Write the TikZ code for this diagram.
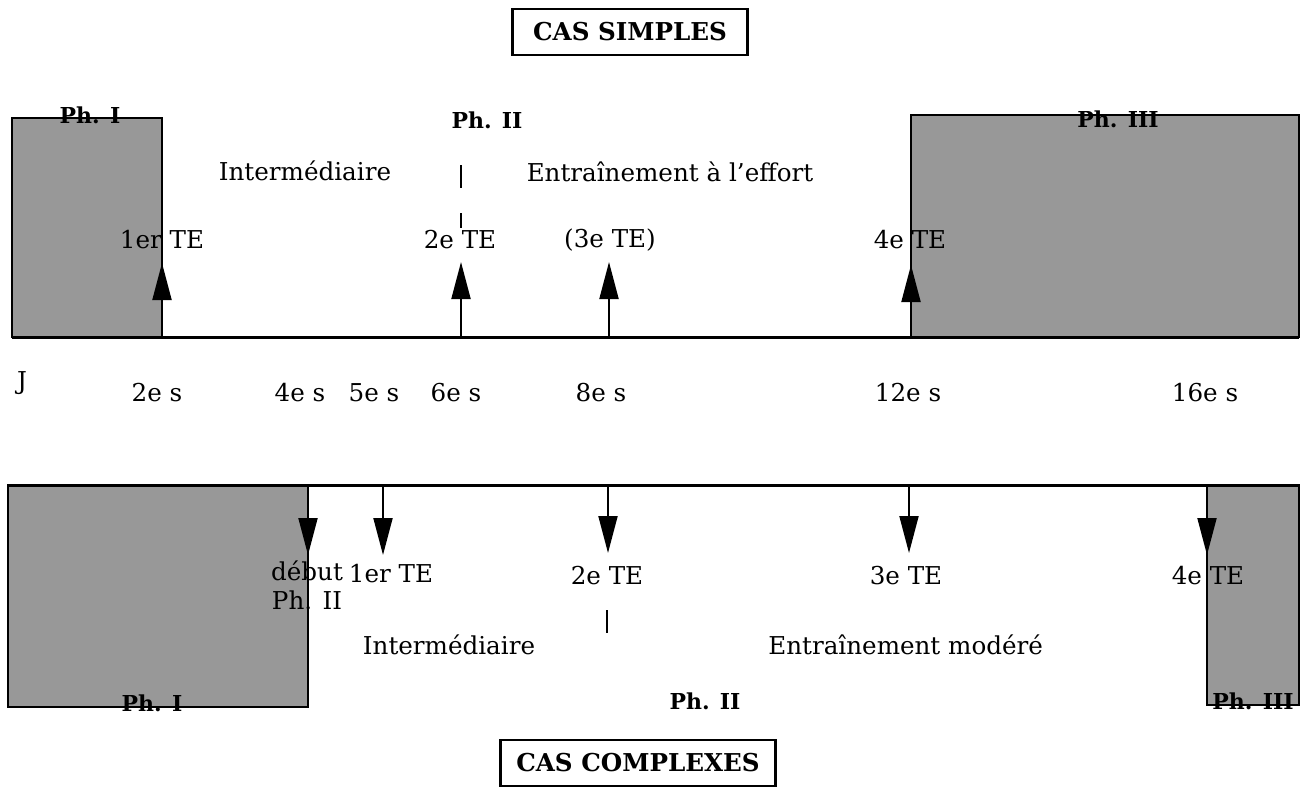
\documentclass[tikz,border=0pt]{standalone}
\usepackage{fontspec}
\setmainfont{DejaVu Serif}
\definecolor{phgray}{RGB}{152, 152, 152}
\usetikzlibrary{arrows.meta, positioning}
\tikzset{
  lbl/.style={inner sep=0pt, font=\fontsize{14}{16.5}\selectfont},
  phlbl/.style={inner sep=0pt, font=\fontsize{12.5}{14}\selectfont\bfseries},
  casbox/.style={draw, line width=1.3pt, inner sep=0pt, minimum height=9.2mm, font=\fontsize{14}{16}\selectfont\bfseries},
  phase/.style={draw, fill=phgray, line width=1.4pt},
  timeaxis/.style={line width=1.7pt},
  tearrow/.style={-{Triangle[length=7.4mm, width=3.8mm]}, line width=1.1pt},
  sepline/.style={line width=1.1pt},
}
\begin{document}
\begin{tikzpicture}[x=0.2mm, y=-0.2mm]
  \useasboundingbox (0,0) rectangle (1302,787);
  % cas simples
  \node[casbox, minimum width=47mm] (cs) at (630,32) {CAS SIMPLES};
  \draw[phase] (12,118) rectangle (162,337);
  \draw[phase] (911,115) rectangle (1299,337);
  \draw[timeaxis] (12,337) -- (1299,337);
  \node[phlbl] (cs1) at (90,115) {Ph. I};
  \node[phlbl] (cs2) at (487,120) {Ph. II};
  \node[phlbl] (cs3) at (1118,119) {Ph. III};
  \node[lbl] (csi) at (305,171) {Intermédiaire};
  \node[lbl] (cse) at (670,172) {Entraînement à l'effort};
  \coordinate (a1) at (162,337); \coordinate (h1) at (162,263);
  \coordinate (a2) at (461,337); \coordinate (h2) at (461,262);
  \coordinate (a3) at (609,337); \coordinate (h3) at (609,262);
  \coordinate (a4) at (911,337); \coordinate (h4) at (911,265);
  \draw[tearrow] (a1) -- (h1); \draw[tearrow] (a2) -- (h2);
  \draw[tearrow] (a3) -- (h3); \draw[tearrow] (a4) -- (h4);
  \node[lbl] (te1) at (162,240) {1er TE};
  \node[lbl] (te2) at (460,240) {2e TE};
  \node[lbl] (te3) at (610,240) {(3e TE)};
  \node[lbl] (te4) at (910,240) {4e TE};
  \coordinate (s1) at (461,165); \coordinate (s2) at (461,188);
  \coordinate (s3) at (461,213); \coordinate (s4) at (461,228);
  \draw[sepline] (s1) -- (s2); \draw[sepline] (s3) -- (s4);
  % jours
  \node[lbl] (j) at (22,383) {J};
  \node[lbl] (d2) at (157,393) {2e s};
  \node[lbl] (d4) at (300,393) {4e s};
  \node[lbl] (d5) at (374,393) {5e s};
  \node[lbl] (d6) at (456,393) {6e s};
  \node[lbl] (d8) at (601,393) {8e s};
  \node[lbl] (d12) at (908,393) {12e s};
  \node[lbl] (d16) at (1205,393) {16e s};
  % cas complexes
  \draw[phase] (8,485) rectangle (308,707);
  \draw[phase] (1207,485) rectangle (1299,705);
  \draw[timeaxis] (8,485) -- (1300,485);
  \coordinate (b0) at (308,485); \coordinate (k0) at (308,555);
  \coordinate (b1) at (383,485); \coordinate (k1) at (383,555);
  \coordinate (b2) at (608,485); \coordinate (k2) at (608,553);
  \coordinate (b3) at (909,485); \coordinate (k3) at (909,553);
  \coordinate (b4) at (1207,485); \coordinate (k4) at (1207,555);
  \draw[tearrow] (b0) -- (k0); \draw[tearrow] (b1) -- (k1); \draw[tearrow] (b2) -- (k2);
  \draw[tearrow] (b3) -- (k3); \draw[tearrow] (b4) -- (k4);
  \node[lbl, align=center] (deb) at (307,585) {début\\Ph. II};
  \node[lbl] (ce1) at (391,574) {1er TE};
  \node[lbl] (ce2) at (607,576) {2e TE};
  \node[lbl] (ce3) at (906,576) {3e TE};
  \node[lbl] (ce4) at (1208,576) {4e TE};
  \coordinate (t1) at (607,610); \coordinate (t2) at (607,633);
  \draw[sepline] (t1) -- (t2);
  \node[lbl] (cci) at (449,645) {Intermédiaire};
  \node[lbl, anchor=west] (cce) at (768,645) {Entraînement modéré};
  \node[phlbl] (cc1) at (152,703) {Ph. I};
  \node[phlbl] (cc2) at (705,701) {Ph. II};
  \node[phlbl] (cc3) at (1253,701) {Ph. III};
  \node[casbox, minimum width=55mm] (cc) at (638,763) {CAS COMPLEXES};
\end{tikzpicture}
\end{document}
